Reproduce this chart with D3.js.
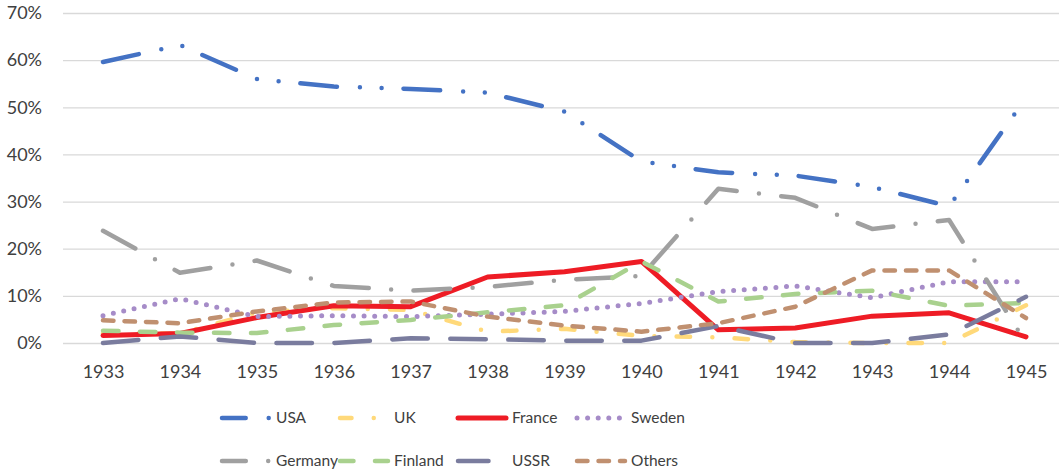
<!DOCTYPE html>
<html>
<head>
<meta charset="utf-8">
<script src="https://cdn.jsdelivr.net/npm/d3@7"></script>
<style>
    body { margin: 0; background: white; }
    text { font-family: Lato, "Open Sans", sans-serif; fill: #404040; }
</style>
</head>
<body>
<svg id="graph1"></svg>
<script>
var screen = {width: 1059, height: 473};
var plot = {left: 63, right: 1064, top: 13, bottom: 343};

// values in percent
var years = [1933, 1934, 1935, 1936, 1937, 1938, 1939, 1940, 1941, 1942, 1943, 1944, 1945];
var usa     = [59.6, 63.2, 56.0, 54.4, 53.9, 53.1, 49.1, 38.5, 36.2, 35.5, 33.1, 29.0, 52.0];
var uk      = [2.0, 2.0, 6.5, 7.4, 7.0, 2.4, 3.0, 1.5, 1.2, 0.2, 0.0, 0.0, 8.0];
var france  = [1.6, 2.0, 5.4, 7.9, 7.7, 14.0, 15.1, 17.3, 2.8, 3.2, 5.7, 6.4, 1.3];
var sweden  = [5.8, 9.4, 5.6, 5.8, 5.6, 6.1, 6.7, 8.4, 10.9, 12.1, 9.6, 13.0, 13.0];
var germany = [23.8, 14.9, 17.5, 12.1, 11.1, 11.9, 13.4, 14.2, 32.7, 30.8, 24.2, 26.1, 0.0];
var finland = [2.6, 2.2, 2.1, 3.8, 4.9, 6.5, 8.0, 17.3, 8.8, 10.4, 11.1, 7.9, 8.5];
var ussr    = [0.0, 1.4, 0.0, 0.0, 1.0, 0.8, 0.5, 0.5, 3.6, 0.0, 0.0, 1.8, 9.8];
var others  = [4.8, 4.2, 6.7, 8.6, 8.8, 5.6, 3.7, 2.4, 4.2, 7.7, 15.4, 15.4, 5.3];
var yTicks = [0, 10, 20, 30, 40, 50, 60, 70];

var seriesNames = ["USA", "UK", "France", "Sweden", "Germany", "Finland", "USSR", "Others"];
var seriesValues = [usa, uk, france, sweden, germany, finland, ussr, others];

// line looks (excel-ish dash types), legOff = dash offset for the legend sample
var styles = {
    USA:     {color: "#4472C4", width: 4.5, dash: "36.7 23 0 21.7 0 21.9", legOff: 13},
    UK:      {color: "#FFD97A", width: 4.5, dash: "13.5 22.25 0 22.25", legOff: 2},
    France:  {color: "#EE1C25", width: 5,   dash: null, legOff: 0},
    Sweden:  {color: "#A68CC8", width: 5,   dash: "0 10.6", legOff: 0},
    Germany: {color: "#A0A0A0", width: 4.5, dash: "36.8 22.4 0 22.4", legOff: 13},
    Finland: {color: "#A9D18E", width: 4.5, dash: "15.5 21.5", legOff: 2},
    USSR:    {color: "#7A7C9E", width: 4.5, dash: "35.5 22.5", legOff: 5},
    Others:  {color: "#C09070", width: 4.5, dash: "10.5 11", legOff: 0}
};

var setup = function()
{
    var svg = d3.select("#graph1")
        .attr("width", screen.width)
        .attr("height", screen.height)

    svg.append("rect")
        .attr("width", screen.width)
        .attr("height", screen.height)
        .attr("fill", "white")

    var xScale = d3.scalePoint()
                    .domain(years)
                    .range([103, 1026])

    var yScale = d3.scaleLinear()
                    .domain([0, 70])
                    .range([plot.bottom, plot.top])

    var yAxis = d3.axisLeft(yScale)
        .tickValues(yTicks)
        .tickSize(-(plot.right - plot.left))
        .tickPadding(21)
        .tickFormat(function(d){ return d + "%" })

    var xAxis = d3.axisBottom(xScale)
        .tickSize(0)
        .tickPadding(22)

    var gy = svg.append("g")
        .attr("id", "yAxis")
        .attr("transform", "translate(" + plot.left + ",0)")
        .call(yAxis)
    gy.select(".domain").remove()
    gy.selectAll("line")
        .attr("stroke", "#D9D9D9")
        .attr("stroke-width", 1.3)
    gy.selectAll("text")
        .style("font-size", "18px")

    var gx = svg.append("g")
        .attr("id", "xAxis")
        .attr("transform", "translate(0," + plot.bottom + ")")
        .call(xAxis)
    gx.select(".domain").remove()
    gx.selectAll("text")
        .style("font-size", "18px")

    var lines = svg.append("g").attr("id", "lines")

    seriesNames.forEach(function(name, i)
    {
        drawLine(lines, seriesValues[i], styles[name], xScale, yScale)
    })

    legend(svg)
}

var drawLine = function(g, values, st, xScale, yScale)
{
    g.append("path")
        .datum(values)
        .attr("fill", "none")
        .attr("stroke", st.color)
        .attr("stroke-width", st.width)
        .attr("stroke-linecap", "round")
        .attr("stroke-linejoin", "round")
        .attr("stroke-dasharray", st.dash)
        .attr("d", d3.line()
            .x(function(d, i){ return xScale(years[i]) })
            .y(function(d){ return yScale(d) }))
}

var legend = function(svg)
{
    var colX = [222, 340, 458, 577];
    var rowY = [418, 461];

    var g = svg.append("g").attr("id", "legend")

    seriesNames.forEach(function(name, i)
    {
        var x = colX[i % 4];
        var y = rowY[Math.floor(i / 4)];
        var st = styles[name];

        g.append("line")
            .attr("x1", x)
            .attr("x2", x + 48)
            .attr("y1", y)
            .attr("y2", y)
            .attr("stroke", st.color)
            .attr("stroke-width", st.width)
            .attr("stroke-linecap", "round")
            .attr("stroke-dasharray", st.dash)
            .attr("stroke-dashoffset", st.legOff)

        g.append("text")
            .attr("x", x + 54)
            .attr("y", y)
            .attr("dy", "0.35em")
            .style("font-size", "15.5px")
            .text(name)
    })
}

setup()
</script>
</body>
</html>
